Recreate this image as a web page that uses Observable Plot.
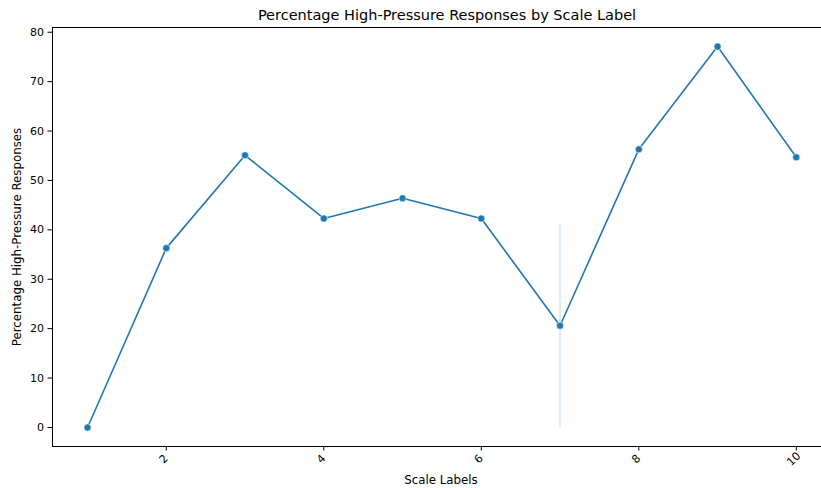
<!DOCTYPE html>
<html>
<head>
<meta charset="utf-8">
<script src="https://cdn.jsdelivr.net/npm/d3@7"></script>
<script src="https://cdn.jsdelivr.net/npm/@observablehq/plot@0.6"></script>
<style>
  html, body { margin: 0; padding: 0; background: #fff; }
  #chart { position: relative; width: 821px; height: 488px; }
  #chart svg { display: block; }
</style>
</head>
<body>
<div id="chart"></div>
<script>
const title = "Percentage High-Pressure Responses by Scale Label";
const xLabel = "Scale Labels";
const yLabel = "Percentage High-Pressure Responses";
const scaleLabels = [1, 2, 3, 4, 5, 6, 7, 8, 9, 10];
const percentages = [0, 36.3, 55.1, 42.3, 46.4, 42.3, 20.6, 56.3, 77.1, 54.7];
const ciLow = [null, null, null, null, null, null, 0, null, null, null];
const ciHigh = [null, null, null, null, null, null, 41.1, null, null, null];
const xTicks = [2, 4, 6, 8, 10];
const yTicks = [0, 10, 20, 30, 40, 50, 60, 70, 80];

const data = scaleLabels.map((x, i) => ({x, y: percentages[i], lo: ciLow[i], hi: ciHigh[i]}));
const ciData = data.filter(d => d.lo != null);

const font = "DejaVu Sans, sans-serif";
const yDom = [-3.85, 80.96];
const xDom = [0.555, 10.32];

const chart = Plot.plot({
  width: 821,
  height: 488,
  marginLeft: 52,
  marginRight: 0,
  marginTop: 27,
  marginBottom: 42,
  style: {fontFamily: font, fontSize: "11px", color: "#000", background: "#fff"},
  x: {type: "linear", domain: xDom},
  y: {type: "linear", domain: yDom},
  marks: [
    Plot.ruleX(ciData, {x: "x", y1: "lo", y2: "hi", stroke: "#1f77b4", strokeOpacity: 0.15, strokeWidth: 2}),
    Plot.line(data, {x: "x", y: "y", stroke: "#1f77b4", strokeWidth: 1.6}),
    Plot.dot(data, {x: "x", y: "y", r: 3.6, fill: "#1f77b4", stroke: "#fff", strokeWidth: 0.6}),
    // spines
    Plot.ruleY([yDom[0]], {stroke: "#000", strokeWidth: 1}),
    Plot.ruleY([yDom[1]], {stroke: "#000", strokeWidth: 1}),
    Plot.ruleX([xDom[0]], {stroke: "#000", strokeWidth: 1}),
    // axes
    Plot.axisY({ticks: yTicks, tickSize: 4.5, tickPadding: 4, label: null, fontSize: 11}),
    Plot.axisX({ticks: xTicks, tickSize: 4.5, tickFormat: () => "", label: null}),
    Plot.text(xTicks, {x: d => d, frameAnchor: "bottom", dy: 15, rotate: -45, text: d => String(d), textAnchor: "middle", fontSize: 11, fill: "#000"}),
  ]
});

const d3svg = d3.select(chart);
d3svg.append("text").attr("x", 447).attr("y", 20).attr("text-anchor", "middle")
  .attr("font-family", font).attr("font-size", "14.5px").attr("fill", "#000").text(title);
d3svg.append("text").attr("x", 441).attr("y", 484).attr("text-anchor", "middle")
  .attr("font-family", font).attr("font-size", "11.8px").attr("fill", "#000").text(xLabel);
d3svg.append("text").attr("transform", "translate(21,237) rotate(-90)").attr("text-anchor", "middle")
  .attr("font-family", font).attr("font-size", "11.8px").attr("fill", "#000").text(yLabel);

document.getElementById("chart").appendChild(chart);
</script>
</body>
</html>
